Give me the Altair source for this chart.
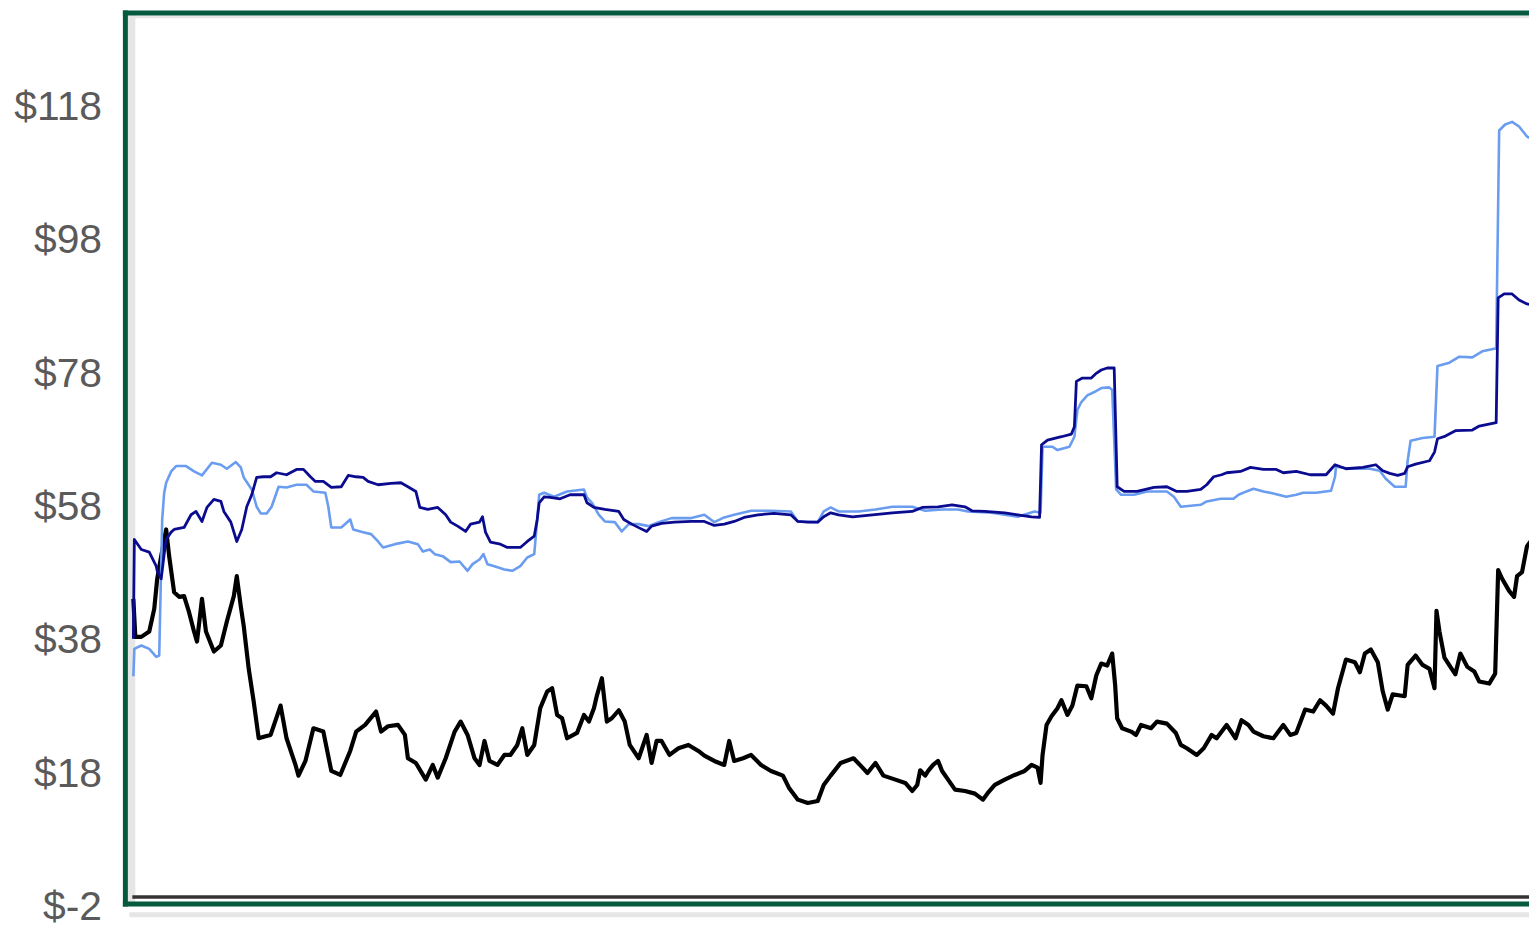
import altair as alt
import pandas as pd

# ---- data (day index, price in $) ----
black_days = [0, 2, 8, 16, 21, 24, 28, 33, 36, 41, 46, 51, 56, 61, 64, 69, 73, 81, 88, 94,
              101, 104, 108, 111, 116, 121, 126, 133, 138, 148, 154, 163, 166, 173, 181, 191, 199, 208, 218, 224,
              233, 244, 249, 256, 266, 273, 276, 284, 294, 301, 306, 314, 323, 329, 336, 343, 348, 353, 358, 366,
              373, 379, 386, 391, 396, 403, 409, 416, 421, 426, 431, 436, 446, 453, 458, 463, 466, 471, 476, 481,
              488, 494, 499, 508, 516, 521, 526, 531, 539, 548, 558, 568, 574, 584, 594, 599, 604, 613, 621, 631,
              641, 653, 659, 668, 678, 688, 694, 701, 711, 724, 733, 738, 746, 754, 766, 776, 783, 788, 791, 796,
              799, 804, 809, 813, 819, 826, 836, 846, 854, 859, 866, 876, 886, 896, 903, 909, 912, 914, 918, 923,
              929, 933, 939, 944, 949, 958, 963, 968, 973, 979, 984, 987, 989, 994, 1003, 1008, 1013, 1023, 1029, 1039,
              1048, 1053, 1059, 1069, 1076, 1084, 1089, 1099, 1108, 1114, 1121, 1126, 1136, 1146, 1156, 1163, 1169, 1178, 1186, 1193,
              1199, 1206, 1211, 1219, 1228, 1233, 1238, 1244, 1251, 1256, 1261, 1266, 1278, 1281, 1289, 1296, 1303, 1308, 1310, 1313,
              1318, 1324, 1329, 1334, 1341, 1348, 1353, 1363, 1369, 1372, 1376, 1383, 1388, 1391, 1396, 1401, 1406]
black_vals = [44.7, 39.0, 39.0, 39.8, 43.2, 47.7, 51.1, 55.1, 51.1, 45.7, 45.0, 45.1, 42.7, 39.8, 38.3, 44.7, 39.8, 36.8, 37.7, 41.3,
              45.1, 48.1, 43.6, 40.6, 34.2, 29.3, 23.8, 24.1, 24.3, 28.7, 23.8, 19.8, 18.2, 20.4, 25.3, 24.8, 18.9, 18.3, 21.9, 24.8,
              25.8, 27.8, 24.8, 25.6, 25.8, 24.3, 20.8, 20.1, 17.6, 19.8, 17.9, 20.8, 24.8, 26.3, 24.3, 20.8, 19.8, 23.4, 20.4, 19.8,
              21.3, 21.3, 22.8, 25.3, 21.3, 22.8, 28.3, 30.8, 31.3, 27.3, 26.8, 23.8, 24.6, 27.3, 26.3, 28.3, 30.2, 32.8, 26.3, 26.8,
              28.0, 26.3, 22.8, 20.8, 24.3, 20.1, 23.4, 23.4, 21.3, 22.3, 22.8, 21.9, 21.2, 20.4, 19.8, 23.4, 20.4, 20.8, 21.3, 19.8,
              18.9, 18.2, 16.4, 14.6, 14.1, 14.4, 16.8, 18.2, 20.1, 20.8, 19.4, 18.6, 20.1, 18.2, 17.6, 17.1, 15.9, 16.8, 19.0, 18.2,
              18.9, 19.8, 20.4, 18.9, 17.6, 16.1, 15.9, 15.5, 14.6, 15.6, 16.8, 17.6, 18.3, 18.9, 19.8, 19.4, 17.1, 21.3, 25.8, 27.1,
              28.3, 29.5, 27.3, 28.7, 31.7, 31.6, 29.8, 33.2, 35.0, 34.7, 36.5, 31.7, 26.8, 25.3, 24.8, 24.3, 25.8, 25.3, 26.3, 26.0,
              24.6, 22.8, 22.3, 21.3, 22.3, 24.3, 23.8, 25.8, 23.8, 26.5, 25.8, 24.8, 24.1, 23.8, 25.8, 24.3, 24.6, 28.1, 27.8, 29.5,
              28.7, 27.5, 31.3, 35.6, 35.2, 33.7, 36.5, 37.1, 35.2, 30.8, 28.1, 30.4, 30.1, 34.8, 36.2, 34.8, 34.2, 31.3, 42.9, 39.8,
              35.9, 34.5, 33.4, 36.5, 34.5, 33.8, 32.3, 32.0, 33.5, 49.0, 47.7, 45.9, 45.0, 48.1, 48.7, 52.6, 53.6]

navy_days = [0, 1, 8, 16, 23, 24, 28, 31, 33, 38, 41, 51, 58, 63, 69, 74, 81, 88, 91, 98,
             104, 109, 114, 119, 124, 131, 138, 144, 154, 164, 171, 178, 183, 191, 199, 209, 216, 224, 231, 236,
             246, 259, 269, 276, 284, 288, 296, 306, 314, 319, 326, 334, 339, 348, 351, 354, 359, 369, 376, 389,
             396, 403, 406, 408, 413, 419, 429, 439, 453, 456, 463, 474, 488, 493, 501, 509, 516, 521, 531, 544,
             561, 574, 584, 594, 604, 614, 628, 644, 661, 668, 678, 688, 694, 701, 709, 723, 743, 763, 783, 793,
             809, 823, 836, 843, 856, 876, 889, 903, 911, 913, 919, 933, 943, 946, 948, 954, 963, 968, 973, 979,
             986, 989, 996, 1009, 1026, 1039, 1049, 1059, 1073, 1079, 1086, 1094, 1099, 1113, 1123, 1136, 1149, 1156, 1169, 1183,
             1199, 1208, 1219, 1236, 1249, 1256, 1263, 1271, 1278, 1281, 1289, 1303, 1308, 1311, 1319, 1329, 1346, 1353, 1370, 1372,
             1378, 1386, 1393, 1401, 1411]
navy_vals = [38.7, 53.6, 52.1, 51.7, 49.6, 48.9, 47.7, 51.4, 53.6, 54.7, 55.1, 55.4, 57.3, 57.8, 56.3, 58.4, 59.6, 59.3, 57.8, 56.2,
             53.3, 55.1, 58.5, 60.3, 62.9, 63.0, 63.0, 63.6, 63.3, 64.1, 64.1, 63.0, 62.3, 62.3, 61.4, 61.5, 63.2, 63.0, 62.9, 62.3,
             61.8, 62.0, 62.1, 61.5, 60.8, 58.4, 58.1, 58.4, 57.3, 56.2, 55.6, 54.8, 55.9, 56.2, 57.0, 54.7, 53.2, 52.9, 52.4, 52.4,
             53.3, 54.1, 56.6, 59.1, 60.0, 59.9, 59.7, 60.3, 60.3, 59.1, 58.4, 58.1, 57.8, 56.6, 55.9, 55.3, 54.8, 55.6, 56.0, 56.2,
             56.3, 56.3, 55.7, 55.9, 56.3, 56.9, 57.3, 57.5, 57.3, 56.3, 56.2, 56.2, 57.0, 57.6, 57.3, 57.0, 57.3, 57.6, 57.8, 58.4,
             58.5, 58.8, 58.5, 57.9, 57.8, 57.6, 57.3, 57.0, 56.9, 67.8, 68.5, 69.0, 69.4, 70.5, 77.3, 77.8, 77.8, 78.5, 79.0, 79.3,
             79.3, 61.5, 60.8, 60.8, 61.4, 61.5, 60.8, 60.8, 61.1, 61.8, 63.0, 63.3, 63.6, 63.8, 64.4, 64.1, 64.1, 63.6, 63.8, 63.3,
             63.3, 64.8, 64.2, 64.4, 64.8, 63.9, 63.5, 63.2, 63.5, 64.5, 64.9, 65.4, 66.7, 68.7, 69.1, 69.9, 70.0, 70.6, 71.1, 89.8,
             90.4, 90.4, 89.5, 88.9, 88.6]

light_days = [0, 1, 8, 16, 23, 26, 29, 31, 33, 38, 43, 53, 61, 69, 79, 88, 94, 103, 108, 111,
              119, 124, 128, 134, 139, 146, 154, 164, 174, 181, 193, 196, 199, 209, 218, 221, 231, 239, 246, 251,
              263, 276, 286, 291, 298, 303, 311, 319, 328, 333, 336, 341, 348, 352, 356, 363, 373, 381, 389, 396,
              403, 406, 408, 413, 423, 436, 453, 456, 461, 468, 474, 484, 491, 498, 508, 518, 528, 541, 561, 574,
              584, 594, 604, 621, 641, 661, 668, 688, 694, 701, 709, 729, 746, 763, 783, 796, 813, 829, 839, 863,
              889, 906, 912, 914, 924, 929, 941, 946, 949, 953, 959, 966, 973, 981, 984, 988, 993, 1006, 1019, 1039,
              1046, 1053, 1073, 1079, 1093, 1106, 1111, 1119, 1126, 1136, 1146, 1159, 1169, 1176, 1189, 1204, 1208, 1209, 1223, 1243,
              1253, 1259, 1268, 1279, 1281, 1284, 1296, 1308, 1311, 1323, 1333, 1346, 1356, 1368, 1370, 1373, 1379, 1386, 1393, 1401,
              1411]
light_vals = [33.1, 37.2, 37.7, 37.2, 36.0, 36.2, 56.6, 60.6, 62.1, 63.8, 64.6, 64.6, 63.8, 63.2, 65.1, 64.8, 64.2, 65.2, 64.4, 62.9,
              61.1, 58.5, 57.5, 57.5, 58.5, 61.5, 61.4, 61.8, 61.8, 60.8, 60.6, 58.5, 55.4, 55.4, 56.6, 55.1, 54.7, 54.4, 53.3, 52.4,
              52.9, 53.3, 52.9, 51.8, 52.1, 51.4, 51.1, 50.2, 50.3, 49.4, 48.9, 49.9, 50.6, 51.4, 49.9, 49.6, 49.1, 48.9, 49.6, 50.9,
              51.4, 56.6, 60.3, 60.6, 60.0, 60.8, 61.1, 59.9, 59.1, 57.3, 56.3, 56.2, 54.8, 55.9, 55.9, 55.6, 56.2, 56.8, 56.8, 57.3,
              56.2, 56.9, 57.3, 57.9, 57.9, 57.8, 56.3, 56.2, 57.8, 58.4, 57.8, 57.8, 58.1, 58.5, 58.5, 57.9, 58.1, 58.1, 57.8, 57.6,
              57.0, 57.8, 57.6, 67.5, 67.5, 67.0, 67.5, 69.0, 73.0, 74.2, 75.2, 75.7, 76.3, 76.4, 76.0, 61.1, 60.3, 60.3, 60.8, 60.8,
              60.0, 58.5, 58.8, 59.3, 59.7, 59.7, 60.3, 60.8, 61.2, 60.8, 60.5, 60.0, 60.3, 60.6, 60.6, 60.9, 63.0, 64.5, 64.2, 64.2,
              63.9, 62.7, 61.5, 61.5, 65.4, 68.4, 68.8, 69.0, 79.6, 80.1, 81.0, 80.9, 81.8, 82.2, 82.2, 114.9, 115.8, 116.2, 115.5, 114.0,
              113.2]

series_names = ["Price", "Series A", "Series B"]
series_colors = ["#000000", "#6a9cf0", "#0b0b90"]
series_widths = [4.2, 2.6, 2.8]
y_ticks = [-2, 18, 38, 58, 78, 98, 118]
x_domain = [-8, 1403]
y_domain = [-2, 132.5]

rows = []
for name, days, vals in [("Price", black_days, black_vals),
                         ("Series A", light_days, light_vals),
                         ("Series B", navy_days, navy_vals)]:
    for d, v in zip(days, vals):
        rows.append({"day": d, "value": v, "series": name})
df = pd.DataFrame(rows)

xs = alt.Scale(domain=x_domain, nice=False, zero=False)
ys = alt.Scale(domain=y_domain, nice=False, zero=False)
one = pd.DataFrame({"k": [0]})

GREEN = "#05593f"
SHADE = "#e6e6e6"


def hrule(yv, x0, x1, color, width, clip=True, cap="butt"):
    return alt.Chart(one).mark_rule(color=color, strokeWidth=width, clip=clip, strokeCap=cap).encode(
        x=alt.XDatum(x0, scale=xs, axis=None),
        x2=alt.X2Datum(x1),
        y=alt.YDatum(yv, scale=ys, axis=None),
    )


stripe = alt.Chart(one).mark_rect(color=SHADE).encode(
    x=alt.XDatum(-5.7, scale=xs, axis=None), x2=alt.X2Datum(2),
    y=alt.YDatum(-1, scale=ys, axis=None), y2=alt.Y2Datum(132.5),
)

top_shade = hrule(131.9, -6, 1410, SHADE, 2.5)
bottom_shade = hrule(-2.64, -4, 1410, SHADE, 5, clip=False)
zero_line = hrule(0, -1, 1410, "#333333", 3.5)

y_axis = alt.Axis(
    values=y_ticks, labelExpr="'$' + datum.value", labelFont="Liberation Sans",
    labelFontSize=41, labelColor="#5a5a5a", ticks=False, domain=False, grid=False,
    labelPadding=24, labelOffset=-2.5, title=None, labelBound=False, labelOverlap=False)


def line_layer(name, width, with_axis):
    return alt.Chart(df).transform_filter(alt.datum.series == name).mark_line(
        strokeWidth=width, clip=True, strokeJoin="round"
    ).encode(
        x=alt.X("day:Q", scale=xs, axis=None),
        y=alt.Y("value:Q", scale=ys, axis=y_axis if with_axis else None),
        color=alt.Color("series:N", scale=alt.Scale(domain=series_names, range=series_colors), legend=None),
    )


price = line_layer("Price", series_widths[0], True)
ser_a = line_layer("Series A", series_widths[1], False)
ser_b = line_layer("Series B", series_widths[2], False)

left_border = alt.Chart(one).mark_rule(color=GREEN, strokeWidth=5, clip=False, strokeCap="square").encode(
    x=alt.XDatum(-8, scale=xs, axis=None), y=alt.YDatum(-1.03, scale=ys, axis=None), y2=alt.Y2Datum(132.5),
)
top_border = hrule(132.5, -8, 1410, GREEN, 5, clip=False, cap="square")
bottom_border = hrule(-1.03, -8, 1410, GREEN, 5, clip=False, cap="square")

chart = alt.layer(
    stripe, top_shade, bottom_shade, zero_line, price, ser_a, ser_b,
    left_border, top_border, bottom_border,
).resolve_axis(y="independent", x="independent").properties(
    width=1411, height=902,
    autosize=alt.AutoSizeParams(type="none"),
    padding={"left": 118, "top": 2.7, "right": 0, "bottom": 22},
    background="white",
).configure_view(strokeWidth=0)

chart.save("out.html", embed_options={"renderer": "svg", "actions": False})
